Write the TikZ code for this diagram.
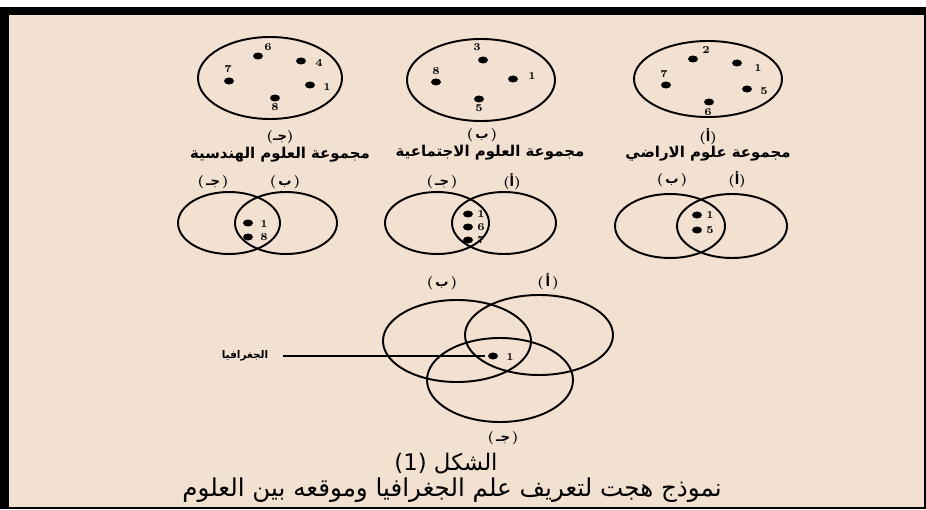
\documentclass[tikz,border=0pt]{standalone}
\usepackage{fontspec}
\newfontfamily\arabicfont[Script=Arabic]{DejaVu Sans}
\TeXXeTstate=1
\usepackage{tikz}
\usetikzlibrary{shapes.geometric}
\definecolor{paper}{RGB}{242,224,208}

\tikzset{
  setline/.style={line width=1.1pt},
  elem/.style={ellipse, fill=black, minimum width=0.2cm, minimum height=0.14cm, inner sep=0pt},
  elemnum/.style={font=\bfseries\fontsize{6}{6}\selectfont, inner sep=0pt},
  setletter/.style={font=\bfseries\fontsize{7.5}{8}\selectfont, inner sep=0pt},
  settitle/.style={font=\arabicfont\bfseries\fontsize{8.5}{9}\selectfont, inner sep=0pt},
  pointer/.style={line width=0.6pt, shorten <=0.28cm, shorten >=0.05cm},
}

\begin{document}
\begin{tikzpicture}[x=0.02cm, y=-0.02cm]
  \useasboundingbox (0,0) rectangle (926,510);
  \fill[white] (0,0) rectangle (926,7);
  \fill[black] (0,7) rectangle (926,509);
  \fill[paper] (9,15) rectangle (924,507);

  % three groups of sciences
  \draw[setline] (270,78) ellipse [x radius=72, y radius=41];
  \foreach \x/\y/\n/\lx/\ly in
    {258/56/6/268/47, 301/61/4/319/63, 229/81/7/228/69, 310/85/1/327/87, 275/98/8/275/107}
  {
    \node[elem] (j\n) at (\x,\y) {};
    \node[elemnum] (jn\n) at (\lx,\ly) {\n};
  }
  \node[setletter] (jlet) at (280,137) {({\arabicfont جـ})};
  \node[settitle] (jtitle) at (280,155) {\beginR مجموعة العلوم الهندسية\endR};

  \draw[setline] (481,80) ellipse [x radius=74, y radius=41];
  \foreach \x/\y/\n/\lx/\ly in
    {483/60/3/477/47, 436/82/8/436/71, 513/79/1/532/76, 479/99/5/479/108}
  {
    \node[elem] (b\n) at (\x,\y) {};
    \node[elemnum] (bn\n) at (\lx,\ly) {\n};
  }
  \node[setletter] (blet) at (482,135) {(\,{\arabicfont ب}\,)};
  \node[settitle] (btitle) at (490,153) {\beginR مجموعة العلوم الاجتماعية\endR};

  \draw[setline] (708,79) ellipse [x radius=74, y radius=38];
  \foreach \x/\y/\n/\lx/\ly in
    {693/59/2/706/50, 737/63/1/758/68, 666/85/7/664/74, 747/89/5/764/91, 709/102/6/708/112}
  {
    \node[elem] (a\n) at (\x,\y) {};
    \node[elemnum] (an\n) at (\lx,\ly) {\n};
  }
  \node[setletter] (alet) at (708,137) {({\arabicfont أ})};
  \node[settitle] (atitle) at (708,154) {\beginR مجموعة علوم الاراضي\endR};

  % pairwise overlaps
  \draw[setline] (229,223) ellipse [x radius=51, y radius=31];
  \draw[setline] (286,223) ellipse [x radius=51, y radius=31];
  \foreach \y/\n/\ly in {223/1/224, 237/8/237}
  {
    \node[elem] (jb\n) at (248,\y) {};
    \node[elemnum] (jbn\n) at (264,\ly) {\n};
  }
  \node[setletter] (jbj) at (213,182) {(\,{\arabicfont جـ}\,)};
  \node[setletter] (jbb) at (285,182) {(\,{\arabicfont ب}\,)};

  \draw[setline] (437,223) ellipse [x radius=52, y radius=31];
  \draw[setline] (504,223) ellipse [x radius=52, y radius=31];
  \foreach \y/\n in {214/1, 227/6, 240/7}
  {
    \node[elem] (ja\n) at (468,\y) {};
    \node[elemnum] (jan\n) at (481,\y) {\n};
  }
  \node[setletter] (jaj) at (442,182) {(\,{\arabicfont جـ}\,)};
  \node[setletter] (jaa) at (512,182) {({\arabicfont أ})};

  \draw[setline] (670,226) ellipse [x radius=55, y radius=32];
  \draw[setline] (732,226) ellipse [x radius=55, y radius=32];
  \foreach \y/\n in {215/1, 230/5}
  {
    \node[elem] (ba\n) at (697,\y) {};
    \node[elemnum] (ban\n) at (710,\y) {\n};
  }
  \node[setletter] (bab) at (672,180) {(\,{\arabicfont ب}\,)};
  \node[setletter] (baa) at (737,180) {({\arabicfont أ})};

  % all three
  \draw[setline] (457,341) ellipse [x radius=74, y radius=41];
  \draw[setline] (539,335) ellipse [x radius=74, y radius=40];
  \draw[setline] (500,380) ellipse [x radius=73, y radius=42];
  \node[setletter] (gb) at (442,283) {(\,{\arabicfont ب}\,)};
  \node[setletter] (ga) at (548,282) {(\,{\arabicfont أ}\,)};
  \node[setletter] (gj) at (503,438) {(\,{\arabicfont جـ}\,)};
  \node[elem] (g1) at (493,356) {};
  \node[elemnum] (gn1) at (510,357) {1};
  \node[font=\arabicfont\bfseries\fontsize{6}{7}\selectfont, inner sep=0pt] (geo) at (245,356) {الجغرافيا};
  \draw[pointer] (geo.east) -- (g1.west);

  \node[font=\arabicfont\fontsize{13}{14}\selectfont, inner sep=0pt] (fig) at (446,464)
    {\beginR الشكل \beginL(1)\endL\endR};
  \node[font=\arabicfont\fontsize{14}{15}\selectfont, inner sep=0pt] (cap) at (452,490)
    {\beginR نموذج هجت لتعريف علم الجغرافيا وموقعه بين العلوم\endR};
\end{tikzpicture}
\end{document}
